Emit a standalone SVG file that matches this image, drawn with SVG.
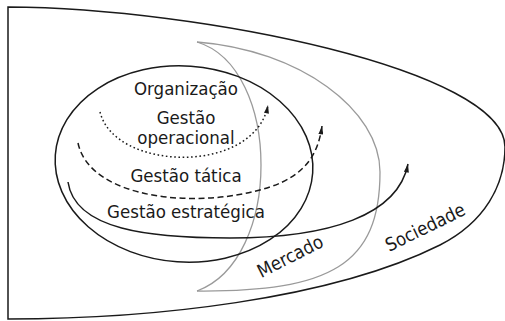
<svg xmlns="http://www.w3.org/2000/svg" width="505" height="321" viewBox="0 0 505 321">
<defs>
<style>
.blk{fill:none;stroke:#1a1a1a;stroke-width:1.5}
.gry{fill:none;stroke:#9a9a9a;stroke-width:1.3}
.lbl{font-family:"DejaVu Sans Condensed","Liberation Sans",sans-serif;font-stretch:condensed;font-size:18.5px;fill:#1a1a1a;text-anchor:middle}
</style>
<marker id="ah" viewBox="0 0 10 6" refX="10" refY="3" markerWidth="9" markerHeight="5" markerUnits="userSpaceOnUse" orient="auto">
<path d="M0,0 L10,3 L0,6 Z" fill="#1a1a1a"/>
</marker>
</defs>
<rect width="505" height="321" fill="#fff"/>
<g id="sociedade">
<path class="blk" d="M8,7 L8,319 C 150,319 330,300 440,245 C 485,222 505,185 505,147 C 505,70 200,8 8,7 Z"/>
<text class="lbl" transform="translate(428,233) rotate(-26)">Sociedade</text>
</g>
<g id="mercado">
<path class="gry" d="M197,42 C 240,55 261,110 261,165 C 261,220 240,275 197,291"/>
<path class="gry" d="M197,42 C 300,50 380,110 380,172 C 380,265 330,292 197,291"/>
<text class="lbl" transform="translate(293,262) rotate(-27)">Mercado</text>
</g>
<g id="organizacao">
<ellipse class="blk" cx="184" cy="164" rx="129" ry="98" transform="rotate(4 184 164)"/>
<text class="lbl" x="186" y="95">Organização</text>
</g>
<g id="gestao-operacional">
<text class="lbl" x="186" y="124">Gestão</text>
<text class="lbl" x="186" y="144">operacional</text>
</g>
<g id="gestao-tatica">
<text class="lbl" x="186" y="182">Gestão tática</text>
</g>
<g id="gestao-estrategica">
<text class="lbl" x="186" y="218">Gestão estratégica</text>
</g>
<g id="connectors">
<path class="blk" stroke-width="1.2" stroke-dasharray="1.6 2.6" d="M100,112 C 115,172 255,175 268,105" marker-end="url(#ah)"/>
<path class="blk" stroke-width="1.3" stroke-dasharray="6 3.5" d="M78,143 C 90,200 200,210 270,187 C 305,175 318,155 322,126" marker-end="url(#ah)"/>
<path class="blk" d="M68,182 C 75,230 150,238 230,238 C 330,238 398,215 408,164" marker-end="url(#ah)"/>
</g>
</svg>
